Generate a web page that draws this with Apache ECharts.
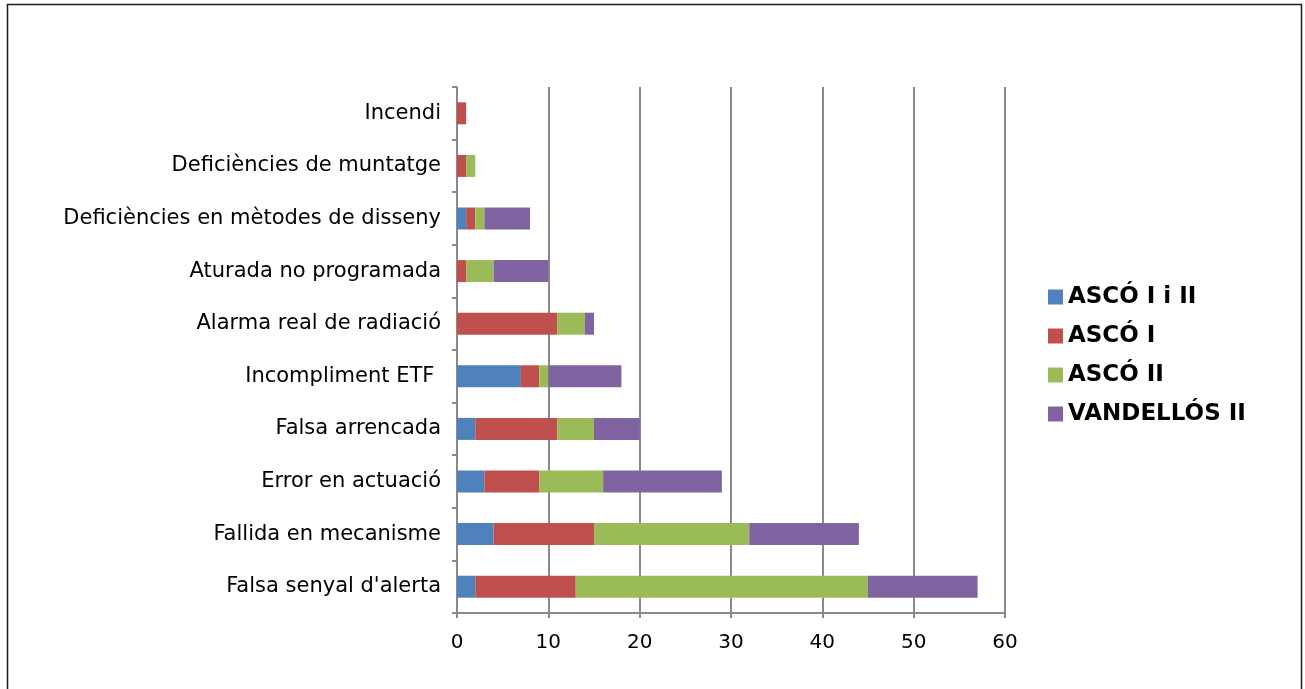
<!DOCTYPE html>
<html>
<head>
<meta charset="utf-8">
<style>
  html, body { margin: 0; padding: 0; background: #fff; }
  #chart { width: 1305px; height: 689px; }
</style>
<script src="https://cdn.jsdelivr.net/npm/echarts@6/dist/echarts.min.js"></script>
</head>
<body>
<div id="chart"></div>
<script>
// Incident types, listed bottom to top along the category axis
const categories = [
  "Falsa senyal d'alerta",
  'Fallida en mecanisme',
  'Error en actuació',
  'Falsa arrencada',
  'Incompliment ETF ',
  'Alarma real de radiació',
  'Aturada no programada',
  'Deficiències en mètodes de disseny',
  'Deficiències de muntatge',
  'Incendi'
];

// Number of incidents per plant
const ascoIiII  = [2, 4, 3, 2, 7, 0, 0, 1, 0, 0];
const ascoI     = [11, 11, 6, 9, 2, 11, 1, 1, 1, 1];
const ascoII    = [32, 17, 7, 4, 1, 3, 3, 1, 1, 0];
const vandellos = [12, 12, 13, 5, 8, 1, 6, 5, 0, 0];

const seriesNames = ['ASCÓ I i II', 'ASCÓ I', 'ASCÓ II', 'VANDELLÓS II'];
const seriesColors = ['#4F81BD', '#C0504D', '#9BBB59', '#8064A2'];
const seriesData = [ascoIiII, ascoI, ascoII, vandellos];

// Value axis ticks
const axisMin = 0;
const axisMax = 60;
const axisStep = 10;

const FONT = '"DejaVu Sans", Verdana, sans-serif';
const GRAY = '#8a8a8a';

const chart = echarts.init(document.getElementById('chart'), null, { renderer: 'canvas' });

chart.setOption({
  animation: false,
  backgroundColor: '#ffffff',
  textStyle: { fontFamily: FONT },
  graphic: [{
    type: 'rect',
    silent: true,
    shape: { x: 7.5, y: 4.5, width: 1294, height: 720 },
    style: { fill: 'none', stroke: '#1e1e1e', lineWidth: 1.5 }
  }],
  grid: { left: 457, right: 300, top: 87, bottom: 76, containLabel: false },
  legend: {
    orient: 'vertical',
    left: 1048,
    top: 285,
    padding: 0,
    itemWidth: 15,
    itemHeight: 15,
    itemGap: 15,
    icon: 'rect',
    data: seriesNames,
    textStyle: {
      fontFamily: FONT,
      fontSize: 23,
      fontWeight: 'bold',
      color: '#000',
      lineHeight: 24
    }
  },
  xAxis: {
    type: 'value',
    min: axisMin,
    max: axisMax,
    interval: axisStep,
    axisLine: { show: true, lineStyle: { color: GRAY, width: 2 } },
    axisTick: { show: true, length: 5, lineStyle: { color: GRAY, width: 2 } },
    splitLine: { show: true, lineStyle: { color: GRAY, width: 2 } },
    axisLabel: { fontFamily: FONT, fontSize: 20, color: '#000', margin: 20 }
  },
  yAxis: {
    type: 'category',
    data: categories,
    axisLine: { show: true, lineStyle: { color: GRAY, width: 2 } },
    axisTick: { show: true, length: 5, lineStyle: { color: GRAY, width: 2 } },
    axisLabel: { fontFamily: FONT, fontSize: 21, color: '#000', margin: 16 }
  },
  series: seriesNames.map((name, i) => ({
    name: name,
    type: 'bar',
    stack: 'total',
    barWidth: 22,
    data: seriesData[i],
    itemStyle: { color: seriesColors[i] }
  }))
});
</script>
</body>
</html>
